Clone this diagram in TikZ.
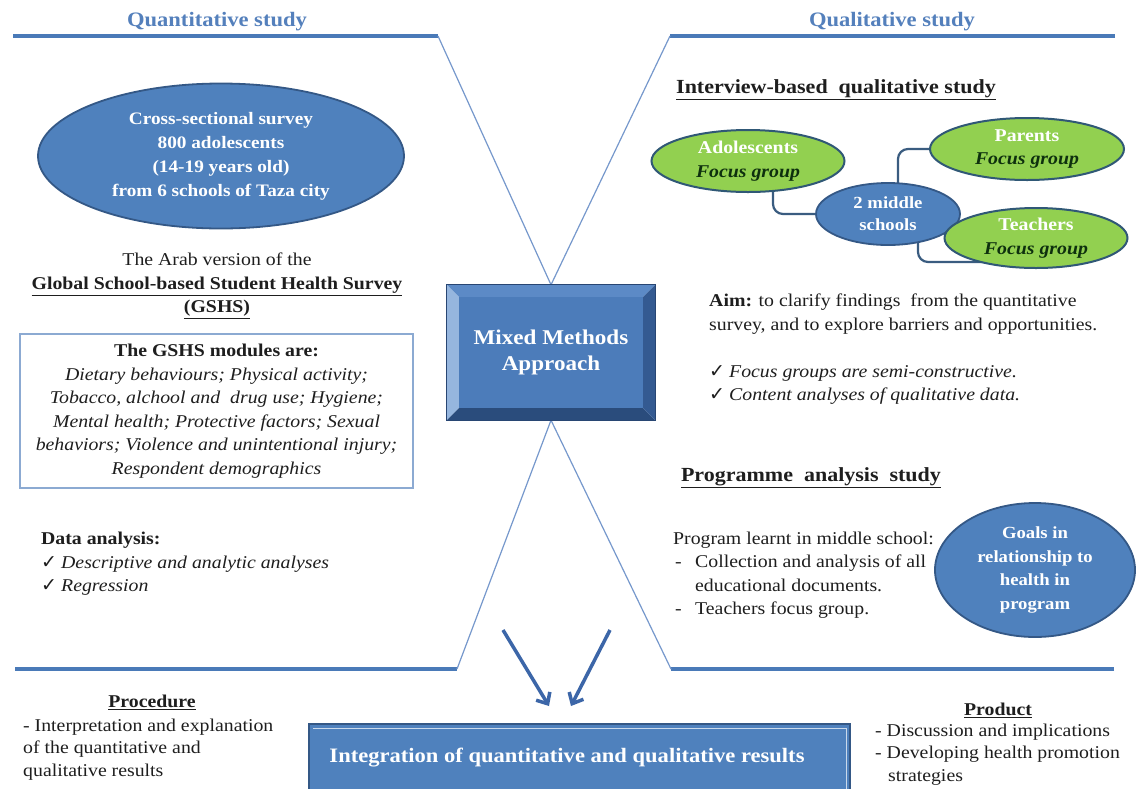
\documentclass[tikz,border=0pt]{standalone}
\usepackage{fontspec}
\setmainfont{Liberation Serif}[FakeStretch=1.1]
\newfontfamily\symf{DejaVu Sans}
\usetikzlibrary{arrows.meta,calc,shapes.geometric}
\pgfdeclarelayer{back}
\pgfdeclarelayer{bg}
\pgfsetlayers{back,bg,main}
\definecolor{titleblue}{RGB}{84,128,188}
\definecolor{lineblue}{RGB}{74,122,184}
\definecolor{thinblue}{RGB}{118,152,204}
\definecolor{ellfill}{RGB}{79,129,189}
\definecolor{ellborder}{RGB}{52,88,134}
\definecolor{grn}{RGB}{146,208,80}
\definecolor{grnborder}{RGB}{48,88,118}
\definecolor{darkgrn}{RGB}{14,48,14}
\definecolor{txt}{RGB}{30,30,30}
\definecolor{boxborder}{RGB}{140,170,210}
\definecolor{linkc}{RGB}{58,92,128}
\definecolor{arrowc}{RGB}{60,102,168}
\definecolor{bvtop}{RGB}{92,138,198}
\definecolor{bvleft}{RGB}{150,182,222}
\definecolor{bvbottom}{RGB}{42,76,124}
\definecolor{bvright}{RGB}{52,90,145}
\definecolor{bvface}{RGB}{76,124,186}
\definecolor{bvline}{RGB}{40,70,115}
\newcommand\myfs[2]{\fontsize{#1}{#2}\selectfont}
\newcommand\chk{\makebox[20pt][l]{\symf\fontsize{19}{23.5}\selectfont ✓}}
\begin{document}
\begin{tikzpicture}[x=1pt,y=-1pt,
  thickline/.style={draw=lineblue,line width=3.5pt},
  thinline/.style={draw=thinblue,line width=1.2pt},
  blueell/.style={ellipse,fill=ellfill,draw=ellborder,line width=1.8pt,text=white,align=center,inner sep=0pt},
  greenell/.style={ellipse,fill=grn,draw=grnborder,line width=2pt,align=center,inner sep=0pt,font=\bfseries\myfs{18}{23.5}},
  body/.style={text=txt,font=\myfs{18}{23.5},inner sep=0pt},
  heading/.style={text=txt,font=\bfseries\myfs{20}{24},inner sep=0pt},
  sectitle/.style={text=titleblue,font=\bfseries\myfs{20.5}{24},inner sep=0pt},
  link/.style={draw=linkc,line width=2.2pt,rounded corners=10pt},
  arrowline/.style={draw=arrowc,line width=3.5pt,-{Straight Barb[length=9pt,width=16pt]}}
]
\useasboundingbox (0,0) rectangle (1138,788);
\begin{pgfonlayer}{back}
\fill[white] (0,0) rectangle (1138,788);
\end{pgfonlayer}

% section titles
\node[sectitle] (qt) at (217,22) {Quantitative study};
\node[sectitle] (ql) at (892,22) {Qualitative study};

% frame coordinates
\coordinate (tl1) at (13,36);  \coordinate (tl2) at (438,36);
\coordinate (tr1) at (1115,36); \coordinate (tr2) at (670,36);
\coordinate (bl1) at (15,669); \coordinate (bl2) at (457,669);
\coordinate (br1) at (1114,669); \coordinate (br2) at (671,669);

% central box
\node[text=white,font=\bfseries\myfs{21}{26},align=center,minimum width=208pt,minimum height=135pt,inner sep=0pt] (mm) at (551,352.5) {Mixed Methods\\Approach};

\begin{pgfonlayer}{bg}
\draw[thickline] (tl1) -- (tl2);
\draw[thickline] (tr1) -- (tr2);
\draw[thickline] (bl1) -- (bl2);
\draw[thickline] (br1) -- (br2);
\draw[thinline] (tl2) -- (mm.north);
\draw[thinline] (tr2) -- (mm.north);
\draw[thinline] (bl2) -- (mm.south);
\draw[thinline] (br2) -- (mm.south);
% bevel box
\fill[bvtop] (mm.north west) -- (mm.north east) -- ($(mm.north east)+(-12,12)$) -- ($(mm.north west)+(12,12)$) -- cycle;
\fill[bvleft] (mm.north west) -- ($(mm.north west)+(12,12)$) -- ($(mm.south west)+(12,-12)$) -- (mm.south west) -- cycle;
\fill[bvbottom] (mm.south west) -- ($(mm.south west)+(12,-12)$) -- ($(mm.south east)+(-12,-12)$) -- (mm.south east) -- cycle;
\fill[bvright] (mm.north east) -- ($(mm.north east)+(-12,12)$) -- ($(mm.south east)+(-12,-12)$) -- (mm.south east) -- cycle;
\fill[bvface] ($(mm.north west)+(12,12)$) rectangle ($(mm.south east)+(-12,-12)$);
\draw[bvline,line width=1pt] (mm.north west) rectangle (mm.south east);
\end{pgfonlayer}

% left: quantitative
\node[blueell,minimum width=366pt,minimum height=145pt,font=\bfseries\myfs{17.5}{24}] (cs) at (221,156)
  {Cross-sectional survey\\800 adolescents\\(14-19 years old)\\from 6 schools of Taza city};
\node[body,align=center] (gshs) at (217,286)
  {The Arab version of the\\\textbf{\underline{Global School-based Student Health Survey}}\\\textbf{\underline{(GSHS)}}};
\node[body,align=center,draw=boxborder,line width=1.5pt,minimum width=393pt,minimum height=154pt] (mod) at (216.5,411)
  {\textbf{The GSHS modules are:}\\
   \textit{Dietary behaviours; Physical activity;}\\
   \textit{Tobacco, alchool and\ \ drug use; Hygiene;}\\
   \textit{Mental health; Protective factors; Sexual}\\
   \textit{behaviors; Violence and unintentional injury;}\\
   \textit{Respondent demographics}};
\node[body,align=left,anchor=west] (da) at (41,564)
  {\textbf{Data analysis:}\\\chk\textit{Descriptive and analytic analyses}\\\chk\textit{Regression}};

% right: qualitative
\node[heading] (ibq) at (836,90) {\underline{Interview-based\ \ qualitative study}};
\node[blueell,minimum width=144pt,minimum height=62pt,font=\bfseries\myfs{17}{22}] (ms) at (888,214) {2 middle\\schools};
\node[greenell,minimum width=193pt,minimum height=62pt] (ado) at (748,161) {\textcolor{white}{Adolescents}\\\textcolor{darkgrn}{\textit{Focus group}}};
\node[greenell,minimum width=194pt,minimum height=62pt] (par) at (1027,149) {\textcolor{white}{Parents}\\\textcolor{darkgrn}{\textit{Focus group}}};
\node[greenell,minimum width=183pt,minimum height=60pt] (tea) at (1036,238) {\textcolor{white}{Teachers}\\\textcolor{darkgrn}{\textit{Focus group}}};
\begin{pgfonlayer}{bg}
\draw[link] ($(ado.center)+(25,0)$) |- (ms.center);
\draw[link] ($(ms.center)+(10,0)$) |- (par.center);
\draw[link] ($(ms.center)+(30,0)$) |- ($(tea.center)+(-40,24)$);
\end{pgfonlayer}

\node[body,align=left,anchor=west] (aim) at (709,314)
  {\textbf{Aim:} to clarify findings\ \ from the quantitative\\survey, and to explore barriers and opportunities.};
\node[body,align=left,anchor=west] (fg) at (709,385)
  {\chk\textit{Focus groups are semi-constructive.}\\\chk\textit{Content analyses of qualitative data.}};

\node[heading] (pas) at (811,478) {\underline{Programme\ \ analysis\ \ study}};
\node[body,align=left,anchor=west] (prog) at (673,575)
  {Program learnt in middle school:\\
   \makebox[22pt][l]{\hspace{2pt}-}Collection and analysis of all\\
   \hspace*{22pt}educational documents.\\
   \makebox[22pt][l]{\hspace{2pt}-}Teachers focus group.};
\node[blueell,minimum width=200pt,minimum height=134pt,font=\bfseries\myfs{17}{23.5}] (goals) at (1035,570)
  {Goals in\\relationship to\\health in\\program};

% bottom
\coordinate (a1s) at (503,630); \coordinate (a1e) at (549,706);
\coordinate (a2s) at (610,630); \coordinate (a2e) at (571,706);
\draw[arrowline] (a1s) -- (a1e);
\draw[arrowline] (a2s) -- (a2e);

\node[fill=ellfill,draw=ellborder,line width=2pt,minimum width=541pt,minimum height=80pt,anchor=north west,inner sep=0pt] (integ) at (308,723) {};
\draw[white!70!ellfill,line width=1pt] ($(integ.north west)+(5,5)$) -- ($(integ.north east)+(-5,5)$) -- ($(integ.south east)+(-5,0)$);
\node[text=white,font=\bfseries\myfs{20.5}{24},inner sep=0pt] (integt) at (567,758) {Integration of quantitative and qualitative results};

\node[body,font=\bfseries\myfs{18}{23}] (proc) at (152,702) {\underline{Procedure}};
\node[body,align=left,anchor=west,font=\myfs{18}{22.5}] (procb) at (23,749.5)
  {- Interpretation and explanation\\of the quantitative and\\qualitative results};
\node[body,font=\bfseries\myfs{18}{23}] (prod) at (998,710) {\underline{Product}};
\node[body,align=left,anchor=west,font=\myfs{18}{22.5}] (prodb) at (875,754.5)
  {- Discussion and implications\\- Developing health promotion\\\hspace*{13pt}strategies};
\end{tikzpicture}
\end{document}
